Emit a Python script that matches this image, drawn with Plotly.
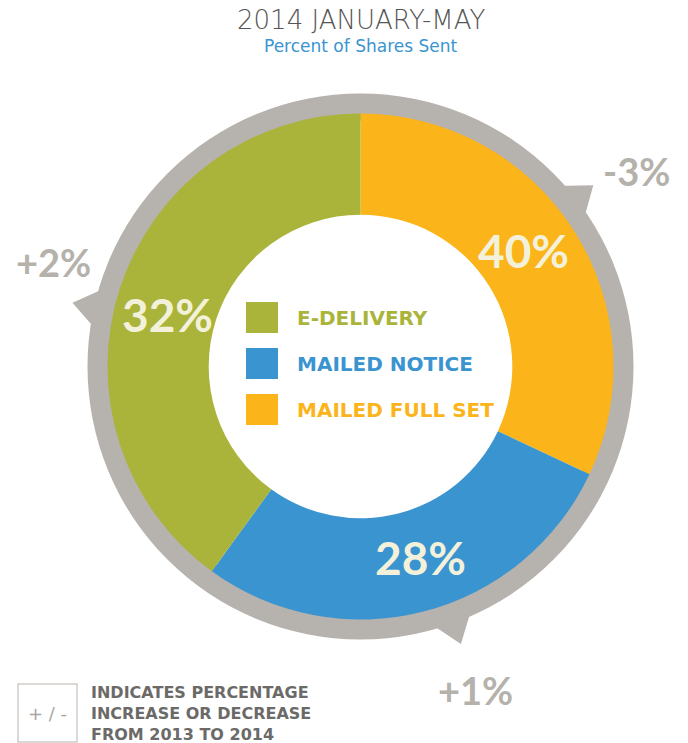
import math
import plotly.graph_objects as go

# ---- data ----
categories = ["MAILED FULL SET", "MAILED NOTICE", "E-DELIVERY"]
# slice sizes as drawn in the reference (arc extents)
drawn_share = [32, 28, 40]
# percentage labels printed on the slices
slice_labels = ["40%", "28%", "32%"]
# change vs previous year, printed outside the ring
change_labels = ["-3%", "+1%", "+2%"]
legend_order = ["E-DELIVERY", "MAILED NOTICE", "MAILED FULL SET"]

colors = {"MAILED FULL SET": "#fbb419", "MAILED NOTICE": "#3a94d0", "E-DELIVERY": "#aab43a"}
GRAY = "#b6b2ad"
W, H = 688, 743

def px(x):
    return x / W

def py(y):
    return 1 - y / H

CX, CY = 360.5, 366.5
R_COL, R_GRAY = 253, 273
HOLE = 0.6

fig = go.Figure()

# gray background ring
fig.add_trace(go.Pie(
    values=[1], labels=["ring"], hole=0.9, sort=False,
    marker=dict(colors=[GRAY], line=dict(width=0)),
    textinfo="none", hoverinfo="skip", showlegend=False,
    domain=dict(x=[px(CX - R_GRAY), px(CX + R_GRAY)], y=[py(CY + R_GRAY), py(CY - R_GRAY)]),
))

# main donut
fig.add_trace(go.Pie(
    labels=categories, values=drawn_share,
    textinfo="none",
    hole=HOLE, sort=False, direction="clockwise", rotation=0,
    marker=dict(colors=[colors[c] for c in categories], line=dict(width=0)),
    hoverinfo="skip", showlegend=False,
    domain=dict(x=[px(CX - R_COL), px(CX + R_COL)], y=[py(CY + R_COL), py(CY - R_COL)]),
))

total = sum(drawn_share)
shapes = []
annotations = []
r_lab = 200
cum = 0
for v, lab in zip(drawn_share, slice_labels):
    mid = (cum + v / 2) / total * 360
    cum += v
    # slice percentage label near the slice centroid
    a = math.radians(mid - 3)
    annotations.append(dict(text=lab, x=px(CX + r_lab * math.sin(a)), y=py(CY - r_lab * math.cos(a)),
                            xanchor="center", yanchor="middle", showarrow=False,
                            font=dict(family="Lato", size=46, color="#f4f1da", weight="bold")))
    # tooth on the gray ring
    t = mid - 5.5
    pts = []
    for ang, r in [(t - 4.8, 266), (t, 295), (t + 4.8, 266)]:
        b = math.radians(ang)
        pts.append((CX + r * math.sin(b), CY - r * math.cos(b)))
    path = "M " + " L ".join(f"{px(x):.5f},{py(y):.5f}" for x, y in pts) + " Z"
    shapes.append(dict(type="path", path=path, xref="paper", yref="paper",
                       fillcolor=GRAY, line=dict(width=0), layer="below"))

# centre legend squares
for i, name in enumerate(legend_order):
    yc = 317.5 + 46 * i
    shapes.append(dict(type="rect", xref="paper", yref="paper",
                       x0=px(246), x1=px(278), y0=py(yc + 15.5), y1=py(yc - 15.5),
                       fillcolor=colors[name], line=dict(width=0)))

# +/- box
shapes.append(dict(type="rect", xref="paper", yref="paper",
                   x0=px(18), x1=px(77), y0=py(742), y1=py(684),
                   fillcolor="rgba(0,0,0,0)", line=dict(color="#cfccc7", width=1.5)))

annotations += [
    dict(text="2014 JANUARY-MAY", x=px(361), y=py(20), xanchor="center", yanchor="middle",
         showarrow=False,
         font=dict(family="DejaVu Sans", size=26, color="#555555", weight=200)),
    dict(text="Percent of Shares Sent", x=px(361), y=py(46), xanchor="center", yanchor="middle",
         showarrow=False,
         font=dict(family="DejaVu Sans", size=17, color="#3a94d0")),
]
for i, name in enumerate(legend_order):
    yc = 317.5 + 46 * i
    annotations.append(dict(text=name, x=px(295), y=py(yc), xanchor="left", yanchor="middle",
                            showarrow=False,
                            font=dict(family="DejaVu Sans", size=20, color=colors[name], weight="bold")))

change_pos = [(636, 171), (475, 690), (53, 262)]
for lab, (x, y) in zip(change_labels, change_pos):
    annotations.append(dict(text=lab, x=px(x), y=py(y), xanchor="center", yanchor="middle",
                            showarrow=False,
                            font=dict(family="Lato", size=38, color="#b5b1ab", weight="bold")))

annotations.append(dict(text="+ / -", x=px(47.5), y=py(713), xanchor="center", yanchor="middle",
                        showarrow=False,
                        font=dict(family="DejaVu Sans", size=18, color="#a9a6a2")))
annotations.append(dict(text="INDICATES PERCENTAGE<br>INCREASE OR DECREASE<br>FROM 2013 TO 2014",
                        x=px(89), y=py(713), xanchor="left", yanchor="middle", align="left",
                        showarrow=False,
                        font=dict(family="DejaVu Sans", size=16, color="#6b6a68", weight="bold")))

fig.update_layout(
    width=W, height=H, margin=dict(l=0, r=0, t=0, b=0),
    paper_bgcolor="white", plot_bgcolor="white",
    shapes=shapes, annotations=annotations,
)

fig.write_html(
    "out.html",
    config={"displayModeBar": False},
    post_script=(
        "document.body.style.margin='0';document.body.style.overflow='hidden';"
        "var gd=document.getElementById('{plot_id}');"
        "gd.style.position='fixed';gd.style.left='0px';gd.style.top='0px';"
    ),
)
